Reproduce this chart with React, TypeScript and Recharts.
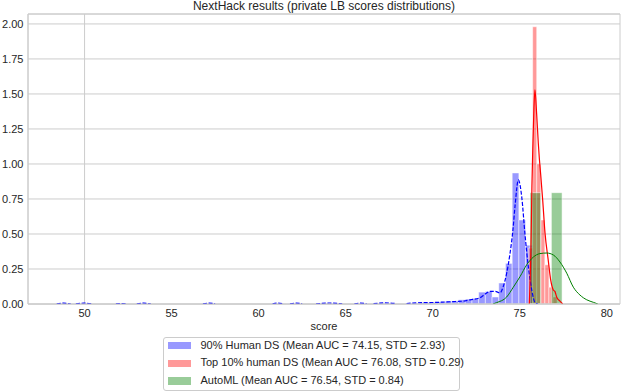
import React from 'react';
import {
  ComposedChart,
  Line,
  XAxis,
  YAxis,
  CartesianGrid,
  ReferenceArea,
  ReferenceLine,
  Label,
} from 'recharts';

const chartTitle = 'NextHack results (private LB scores distributions)';
const xAxisTitle = 'score';
const xTicks = [50, 55, 60, 65, 70, 75, 80];
const yTicks = [0, 0.25, 0.5, 0.75, 1.0, 1.25, 1.5, 1.75, 2.0];
const xDomain = [46.75, 80.76];
const yDomain = [0, 2.071];

const seriesNames = [
  '90% Human DS (Mean AUC = 74.15, STD = 2.93)',
  'Top 10% human DS (Mean AUC = 76.08, STD = 0.29)',
  'AutoML (Mean AUC = 76.54, STD = 0.84)',
];

// Histogram (density) bins: 90% human DS
const blueBinWidth = 0.385;
const blueBinLeft = [
  49.1, 53.2, 61.6, 64.1, 66.0, 67.3, 68.406, 68.791, 69.176, 69.561, 69.946, 70.331,
  70.716, 71.101, 71.486, 71.871, 72.256, 72.641, 73.026, 73.411, 73.796, 74.181,
  74.566, 74.951, 75.336,
];
const blueBinHeight = [
  0.003, 0.003, 0.004, 0.004, 0.004, 0.005, 0.006, 0.006, 0.01, 0.01, 0.012, 0.015,
  0.02, 0.02, 0.03, 0.035, 0.04, 0.085, 0.09, 0.05, 0.15, 0.29,
  0.936, 0.6, 0.42,
];

// KDE: 90% human DS (null = break in the curve)
const blueKdeX = [
  48.4, 48.8, 49.2, 49.3, 49.5, 49.95, 50.4, 50.5, 51.8, 52.1, 52.4, 52.5, 53.0, 53.4, 53.8, 53.9,
  56.8, 57.15, 57.5, 57.6, 60.8, 61.1, 61.4, 61.5, 61.8, 62.15, 62.5, 62.6, 63.3, 64.05, 64.8, 64.9,
  65.5, 65.85, 66.2, 66.3, 66.6, 67.25, 67.9, 68.0, 68.5, 69.15, 69.8, 70.3, 70.8, 71.3, 71.7,
  72.15, 72.72, 73.0, 73.29, 73.58, 73.87, 74.04, 74.25, 74.44, 74.61, 74.73, 74.92, 75.11, 75.3,
  75.49, 75.69, 75.88, 76.05,
];
const blueKdeY = [
  0.001, 0.006, 0.001, null, 0.001, 0.006, 0.001, null, 0.0005, 0.003, 0.0005, null, 0.001, 0.006, 0.001, null,
  0.001, 0.006, 0.001, null, 0.001, 0.006, 0.001, null, 0.001, 0.006, 0.001, null, 0.001, 0.007, 0.001, null,
  0.001, 0.006, 0.001, null, 0.002, 0.008, 0.003, null, 0.003, 0.009, 0.01, 0.012, 0.015, 0.018, 0.02,
  0.03, 0.045, 0.07, 0.09, 0.09, 0.08, 0.12, 0.22, 0.36, 0.53, 0.7, 0.886, 0.77, 0.5,
  0.27, 0.1, 0.01, 0.0,
];

// Histogram (density) bins: top 10% human DS
const redBinWidth = 0.2336;
const redBinLeft = [75.508, 75.742, 75.975, 76.209, 76.443, 76.676, 76.91];
const redBinHeight = [0.4, 1.98, 1.0, 0.6, 0.28, 0.12, 0.05];

// KDE: top 10% human DS
const redKdeX = [
  75.55, 75.644, 75.701, 75.758, 75.816, 75.873, 75.97, 76.066, 76.12, 76.2, 76.32, 76.45,
  76.64, 76.78, 76.93, 77.02, 77.12, 77.31, 77.47,
];
const redKdeY = [
  0.0, 0.4, 0.85, 1.15, 1.4, 1.53, 1.36, 1.15, 1.05, 0.93, 0.74, 0.51,
  0.31, 0.17, 0.1, 0.09, 0.05, 0.02, 0.0,
];

// Histogram (density) bins: AutoML
const greenBinWidth = 0.614;
const greenBinLeft = [75.59, 76.204, 76.818];
const greenBinHeight = [0.795, 0, 0.795];

// KDE: AutoML
const greenKdeX = [
  73.46, 73.676, 74.25, 74.63, 75.015, 75.4, 75.78, 76.16, 76.55, 76.93, 77.31, 77.7,
  78.08, 78.46, 78.85, 79.23, 79.49,
];
const greenKdeY = [
  0.0, 0.01, 0.05, 0.12, 0.195, 0.28, 0.335, 0.36, 0.364, 0.35, 0.3, 0.22,
  0.12, 0.064, 0.03, 0.012, 0.0,
];

const toPoints = (xs: number[], ys: (number | null)[]) => xs.map((x, i) => ({ x, y: ys[i] }));

const blueKde = toPoints(blueKdeX, blueKdeY);
const redKde = toPoints(redKdeX, redKdeY);
const greenKde = toPoints(greenKdeX, greenKdeY);

const BLUE = '#0000ff';
const RED = '#ff0000';
const GREEN = '#008000';
const legendPatch = ['#9999ff', '#ff9999', '#99cc99'];
const TEXT = '#262626';
const GRID = '#cccccc';

const histAreas = (
  lefts: number[],
  heights: number[],
  width: number,
  color: string,
  key: string
) =>
  lefts.map((l, i) =>
    heights[i] > 0 ? (
      <ReferenceArea
        key={`${key}-${i}`}
        x1={l}
        x2={l + width}
        y1={0}
        y2={heights[i]}
        fill={color}
        fillOpacity={0.4}
        stroke="#ffffff"
        strokeOpacity={0.5}
        strokeWidth={1}
        ifOverflow="visible"
      />
    ) : null
  );

export default function App() {
  return (
    <div
      style={{
        position: 'absolute',
        left: 0,
        top: 0,
        width: 624,
        height: 392,
        background: '#ffffff',
        fontFamily: '"Liberation Sans", Arial, sans-serif',
        color: TEXT,
      }}
    >
      <div
        style={{
          position: 'absolute',
          left: 28,
          width: 592,
          top: 0,
          textAlign: 'center',
          fontSize: 12,
          lineHeight: '12px',
          whiteSpace: 'nowrap',
        }}
      >
        {chartTitle}
      </div>
      <ComposedChart
        width={624}
        height={392}
        margin={{ top: 14, right: 4, bottom: 58, left: 0 }}
      >
        <CartesianGrid horizontal vertical={false} stroke={GRID} strokeWidth={1} />
        <ReferenceLine x={50} stroke={GRID} strokeWidth={1} />
        {histAreas(blueBinLeft, blueBinHeight, blueBinWidth, BLUE, 'b')}
        <Line
          data={blueKde}
          dataKey="y"
          type="monotone"
          stroke={BLUE}
          strokeWidth={1.2}
          strokeDasharray="4 1.7"
          dot={false}
          activeDot={false}
          connectNulls={false}
          isAnimationActive={false}
        />
        {histAreas(redBinLeft, redBinHeight, redBinWidth, RED, 'r')}
        <Line
          data={redKde}
          dataKey="y"
          type="monotone"
          stroke={RED}
          strokeWidth={1.2}
          dot={false}
          activeDot={false}
          isAnimationActive={false}
        />
        {histAreas(greenBinLeft, greenBinHeight, greenBinWidth, GREEN, 'g')}
        <Line
          data={greenKde}
          dataKey="y"
          type="monotone"
          stroke={GREEN}
          strokeWidth={1}
          dot={false}
          activeDot={false}
          isAnimationActive={false}
        />
        <ReferenceArea
          x1={xDomain[0]}
          x2={xDomain[1]}
          y1={yDomain[0]}
          y2={yDomain[1]}
          fill="none"
          stroke={GRID}
          strokeWidth={1}
          ifOverflow="visible"
        />
        <XAxis
          type="number"
          dataKey="x"
          domain={xDomain}
          ticks={xTicks}
          allowDataOverflow
          height={30}
          tickSize={0}
          tickMargin={5}
          axisLine={{ stroke: GRID }}
          tickLine={false}
          tick={{ fill: TEXT, fontSize: 11 }}
        >
          <Label value={xAxisTitle} position="insideBottom" offset={4} fill={TEXT} fontSize={11} />
        </XAxis>
        <YAxis
          type="number"
          domain={yDomain}
          ticks={yTicks}
          allowDataOverflow
          width={28}
          tickSize={0}
          tickMargin={4.5}
          axisLine={{ stroke: GRID }}
          tickLine={false}
          tick={{ fill: TEXT, fontSize: 11 }}
          tickFormatter={(v: number) => v.toFixed(2)}
        />
      </ComposedChart>
      <div
        style={{
          position: 'absolute',
          left: 163,
          top: 337,
          width: 297,
          height: 54,
          boxSizing: 'border-box',
          border: `1px solid ${GRID}`,
          borderRadius: 3,
          background: 'rgba(255,255,255,0.8)',
          fontSize: 11,
        }}
      >
        {seriesNames.map((name, i) => (
          <div
            key={name}
            style={{
              position: 'absolute',
              left: 0,
              top: -1.4 + i * 17.7,
              height: 17.7,
              lineHeight: '17.7px',
              width: 295,
              whiteSpace: 'nowrap',
            }}
          >
            <span
              style={{
                position: 'absolute',
                left: 3.5,
                top: 5.3,
                width: 23,
                height: 7.5,
                background: legendPatch[i],
              }}
            />
            <span style={{ position: 'absolute', left: 36.5 }}>{name}</span>
          </div>
        ))}
      </div>
    </div>
  );
}
